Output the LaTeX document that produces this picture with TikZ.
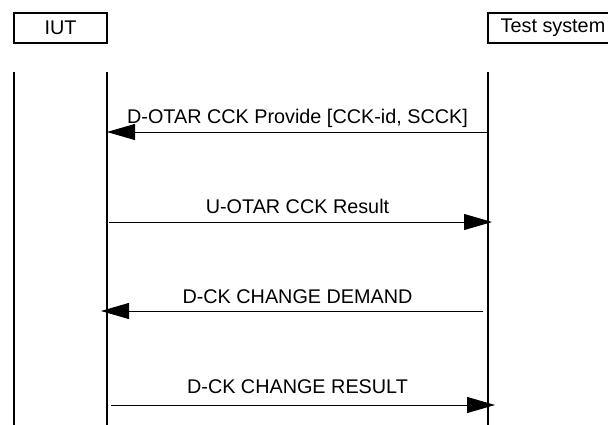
\documentclass[tikz,border=0pt]{standalone}
\usepackage{fontspec}
\setmainfont{Liberation Sans}
\usetikzlibrary{arrows.meta}
\begin{document}
\begin{tikzpicture}[x=1pt,y=-1pt,
  actor/.style={draw, line width=2.2pt, minimum height=30pt, inner sep=0pt,
    font=\fontsize{19.8}{21}\selectfont},
  life/.style={line width=2.6pt},
  msg/.style={line width=0.9pt, -{Triangle[length=28pt,width=16pt]}},
  lbl/.style={anchor=base, inner sep=0pt, font=\fontsize{19.8}{21}\selectfont}]
\useasboundingbox (0,0) rectangle (608,425);
\clip (0,0) rectangle (608,425);
% actors
\node[actor, minimum width=93pt] (iut) at (60.5,28) {IUT};
\node[actor, minimum width=130pt] (ts) at (553,28) {Test system};
% lifelines
\coordinate (l0t) at (14,72);  \coordinate (l0b) at (14,426);
\coordinate (l1t) at (107,72); \coordinate (l1b) at (107,426);
\coordinate (l2t) at (488,72); \coordinate (l2b) at (488,426);
\draw[life] (l0t) -- (l0b);
\draw[life] (l1t) -- (l1b);
\draw[life] (l2t) -- (l2b);
% messages
\coordinate (m1s) at (488,132); \coordinate (m1e) at (107,132);
\coordinate (m2s) at (109,222); \coordinate (m2e) at (492,222);
\coordinate (m3s) at (483,311); \coordinate (m3e) at (101,311);
\coordinate (m4s) at (111,405); \coordinate (m4e) at (495,405);
\draw[msg] (m1s) -- (m1e);
\draw[msg] (m2s) -- (m2e);
\draw[msg] (m3s) -- (m3e);
\draw[msg] (m4s) -- (m4e);
\node[lbl] (t1) at (297.5,124) {D-OTAR CCK Provide [CCK-id, SCCK]};
\node[lbl] (t2) at (297.5,214) {U-OTAR CCK Result};
\node[lbl] (t3) at (297.5,303) {D-CK CHANGE DEMAND};
\node[lbl] (t4) at (297.5,393) {D-CK CHANGE RESULT};
\end{tikzpicture}
\end{document}
